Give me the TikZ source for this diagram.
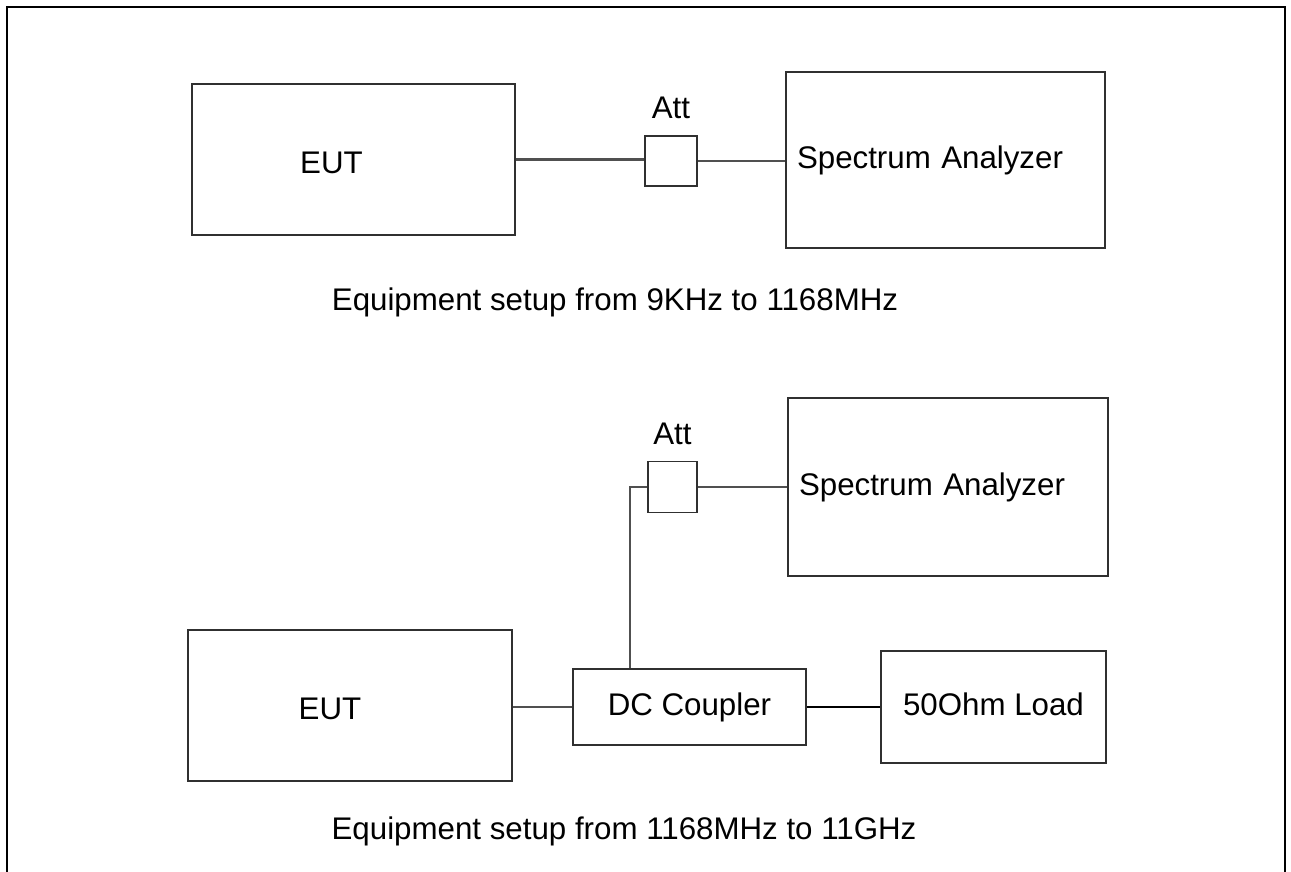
\documentclass[tikz,border=0pt]{standalone}
\usepackage{fontspec}
\setmainfont{Liberation Sans}
\usepackage{xcolor}
\usetikzlibrary{positioning,calc}
\definecolor{Wire}{HTML}{505050}
\definecolor{Edge}{HTML}{303030}

\begin{document}
\begin{tikzpicture}[
    font=\fontsize{17.8}{21}\selectfont,
    unit/.style={draw=Edge, line width=1.1pt, inner sep=0pt, text height=1.2em, text depth=0.2em},
    wire/.style={Wire, line width=1.4pt},
    thinwire/.style={black, line width=0.7pt}
  ]
        \useasboundingbox (0,0) rectangle (25.82,17.44);
        \draw[black, line width=1.6pt] (0.14,0) -- (0.14,17.3) -- (25.7,17.3) -- (25.7,0);
        % from 9KHz to 1168MHz
        \node[unit, minimum width=6.46cm, minimum height=3.02cm, label={[xshift=-0.44cm, yshift=-2pt]center:EUT}] (eutA) at (7.07,14.25) {};
        \node[unit, minimum width=1.04cm, minimum height=1.0cm, label={[yshift=5.5pt]above:Att}] (attA) at (13.42,14.22) {};
        \node[unit, minimum height=3.52cm, text width=5.94cm, inner xsep=0.22cm, align=left] (saA) at (18.91,14.24) {Spectrum Analyzer};
        \draw[wire] (eutA.east) -- (eutA.east -| attA.west);
        \draw[wire] (attA.east) -- (attA.east -| saA.west);
        \node (capA) at (12.3,11.4) {Equipment setup from 9KHz to 1168MHz};
        % from 1168MHz to 11GHz
        \node[unit, minimum height=3.56cm, text width=5.96cm, inner xsep=0.22cm, align=left] (saB) at (18.96,7.7) {Spectrum Analyzer};
        \node[unit, minimum width=0.98cm, minimum height=1.02cm, label={[yshift=5.5pt]above:Att}] (attB) at (13.45,7.7) {};
        \node[unit, minimum width=6.48cm, minimum height=3.02cm, label={[xshift=-0.4cm, yshift=-2pt]center:EUT}] (eutB) at (7.0,3.33) {};
        \node[unit, minimum width=4.66cm, minimum height=1.52cm] (coup) at (13.79,3.3) {DC Coupler};
        \node[unit, minimum width=4.5cm, minimum height=2.24cm] (load) at (19.87,3.3) {50Ohm Load};
        \draw[wire] (attB.east) -- (attB.east -| saB.west);
        \draw[wire] (attB.west) -- ++(-0.34,0) coordinate (bend) -- (bend |- coup.north);
        \draw[wire] (coup.west -| eutB.east) -- (coup.west);
        \draw[thinwire] (coup.east) -- (coup.east -| load.west);
        \node (capB) at (12.48,0.82) {Equipment setup from 1168MHz to 11GHz};
      \end{tikzpicture}
\end{document}
